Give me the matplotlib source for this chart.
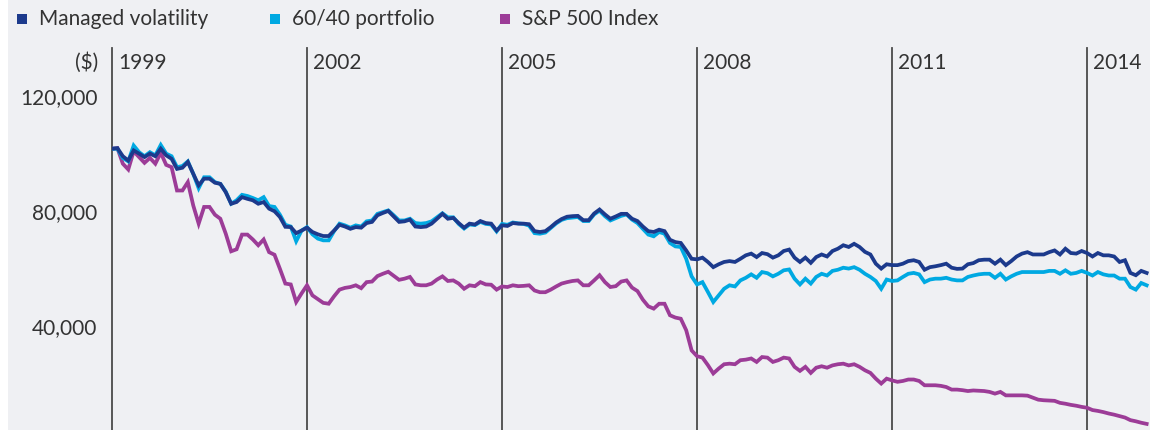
import matplotlib
matplotlib.use("Agg")
import matplotlib.pyplot as plt
from matplotlib.patches import Rectangle
import numpy as np

# ---- data (values in $ thousands, monthly from Jan 1999) ----
managed_volatility = [
    101.7, 101.9, 99.1, 97.6, 101.1, 100.0, 98.8, 100.0, 99.1, 101.7, 99.4, 98.2,
    94.7, 95.1, 97.1, 93.0, 89.0, 91.3, 91.3, 89.9, 89.5, 86.6, 82.6, 83.2,
    84.9, 84.3, 83.8, 82.6, 83.2, 80.9, 80.0, 78.0, 74.6,
    74.5, 72.4, 73.3, 74.3, 72.8, 72.0, 71.4, 71.4, 73.3, 75.3, 74.7, 73.9,
    74.5, 74.3, 75.9, 76.3, 78.6, 79.4, 80.1, 78.2, 76.3, 76.5, 77.1, 74.7,
    74.5, 74.7, 75.7, 77.4, 79.1, 77.4, 77.7,
    75.9, 74.3, 75.7, 75.4, 76.6, 75.9, 75.7, 73.3, 75.1, 74.9, 75.9, 75.7,
    75.7, 75.5, 73.1, 72.8, 73.1, 74.5, 76.1, 77.3, 78.1, 78.3, 78.4, 76.9,
    76.9, 79.2, 80.6, 78.9, 77.4, 78.2, 79.1,
    79.1, 77.4, 76.6, 74.7, 73.1, 72.8, 73.6, 73.1, 70.1, 69.3, 69.0, 66.4,
    63.5, 63.3, 63.9, 62.4, 60.6, 61.6, 62.4, 62.7, 62.4, 63.5, 64.7, 65.3,
    64.1, 65.5, 65.1, 63.9, 64.7, 66.2, 66.7, 63.9,
    62.4, 63.9, 62.1, 64.1, 65.0, 64.3, 66.2, 67.0, 68.2, 67.6, 68.7, 67.6,
    65.9, 65.0, 61.8, 60.1, 61.6, 61.3, 61.3, 61.8, 62.7, 63.0, 62.4, 59.7,
    60.6, 60.9, 61.3, 61.8, 60.4,
    60.0, 60.1, 61.6, 62.0, 63.0, 63.2, 63.2, 61.8, 63.2, 61.3, 62.7, 64.3,
    65.3, 65.8, 65.0, 65.0, 65.0, 65.8, 66.4, 65.0, 67.0, 65.5, 65.3, 66.2,
    65.5, 64.3, 65.5, 64.7, 64.7, 64.3, 62.4, 63.0, 58.6, 57.8, 59.3, 58.6,
]

portfolio_60_40 = [
    101.7, 101.7, 98.5, 97.3, 102.8, 100.5, 99.1, 100.5, 99.4, 103.0, 100.0, 99.1,
    95.3, 95.7, 97.3, 93.0, 88.0, 91.8, 91.8, 90.1, 89.5, 86.8, 82.6, 83.8,
    85.7, 85.3, 84.6, 83.8, 84.9, 81.8, 81.5, 78.8, 75.3,
    74.7, 69.6, 73.3, 74.5, 72.0, 70.5, 69.9, 69.9, 73.1, 75.7, 75.1, 74.3,
    75.1, 74.7, 76.5, 76.8, 79.1, 79.7, 80.3, 78.6, 76.8, 76.8, 77.4, 75.9,
    75.7, 75.9, 76.5, 77.9, 79.3, 77.9, 77.9,
    75.6, 74.0, 75.4, 75.2, 76.3, 75.6, 75.4, 73.0, 75.6, 75.3, 76.1, 75.8,
    75.6, 75.0, 72.4, 72.2, 72.6, 74.2, 75.8, 77.0, 77.6, 77.8, 78.0, 76.6,
    76.6, 78.9, 80.2, 78.3, 76.8, 77.6, 78.4,
    78.9, 77.1, 75.9, 73.9, 71.9, 71.3, 72.8, 72.2, 69.0, 67.8, 67.6, 63.5,
    57.4, 54.6, 55.4, 52.0, 48.5, 50.8, 53.1, 54.3, 53.9, 56.0, 56.9, 58.1,
    56.9, 58.9, 58.5, 57.4, 58.3, 59.5, 59.8, 56.6,
    54.6, 56.6, 54.9, 57.2, 58.3, 57.7, 59.3, 59.7, 60.4, 60.1, 60.6, 59.7,
    58.3, 57.2, 55.8, 53.1, 56.3, 55.8, 56.0, 57.2, 58.3, 58.6, 58.1, 55.4,
    56.3, 56.6, 56.6, 56.9, 56.3,
    56.0, 56.0, 57.2, 57.7, 58.1, 58.3, 58.3, 56.9, 58.3, 56.3, 57.4, 58.3,
    58.9, 58.9, 58.9, 58.9, 58.9, 59.3, 59.3, 58.3, 59.5, 58.3, 58.6, 59.3,
    58.6, 57.7, 58.9, 58.1, 57.7, 57.7, 56.6, 56.6, 53.7, 52.8, 55.1, 54.3,
]

sp500_index = [
    101.7, 101.9, 96.5, 94.5, 100.8, 98.8, 96.8, 98.5, 96.5, 100.3, 96.1, 95.3,
    87.2, 87.2, 90.1, 82.0, 75.7, 81.5, 81.5, 78.8, 77.4, 72.2, 66.1, 66.8,
    71.9, 71.9, 70.2, 68.2, 70.2, 65.8, 64.9, 60.0, 54.9,
    54.6, 48.5, 51.5, 54.3, 50.8, 49.5, 48.2, 47.9, 50.5, 52.8, 53.4, 53.7,
    54.3, 53.3, 55.4, 55.6, 57.5, 58.3, 59.0, 57.6, 56.2, 56.6, 57.2, 54.6,
    54.3, 54.3, 54.9, 56.3, 57.4, 55.8, 56.0,
    54.9, 53.1, 54.3, 54.0, 55.4, 54.6, 54.5, 52.8, 53.9, 53.7, 54.3, 54.0,
    54.1, 54.3, 52.5, 51.9, 51.9, 52.8, 53.9, 54.9, 55.4, 55.8, 56.0, 54.3,
    54.3, 56.0, 57.8, 55.4, 53.7, 54.0, 55.6,
    56.0, 53.5, 52.3, 49.3, 47.0, 46.2, 47.9, 47.9, 43.9, 43.1, 42.7, 38.7,
    31.7, 29.7, 29.2, 26.6, 23.7, 25.4, 26.9, 27.1, 26.9, 28.3, 28.5, 28.9,
    27.7, 29.4, 29.2, 27.7, 28.3, 29.2, 28.9, 26.0,
    24.6, 26.0, 23.9, 25.7, 26.2, 25.7, 26.5, 26.9, 27.1, 26.5, 26.9, 26.0,
    24.8, 23.9, 21.9, 20.2, 21.9, 21.3, 20.8, 21.1, 21.6, 21.6, 21.1, 19.6,
    19.6, 19.6, 19.4, 19.0, 18.1,
    18.1, 17.9, 17.6, 17.8, 17.7, 17.6, 17.3, 16.7, 17.3, 16.1, 16.1, 16.1,
    16.1, 16.0, 15.3, 14.6, 14.4, 14.3, 14.2, 13.5, 13.2, 12.8, 12.5, 12.1,
    11.8, 11.0, 10.7, 10.3, 9.8, 9.4, 8.9, 8.4, 7.5, 7.1, 6.6, 6.2,
]

series_names = ["Managed volatility", "60/40 portfolio", "S&P 500 Index"]
year_labels = [1999, 2002, 2005, 2008, 2011, 2014]
y_ticks = [40000, 80000, 120000]
start_year = 1999

# ---- style ----
FONT = ["Lato", "DejaVu Sans"]
FW = "normal"
FS = 15
TXT = "#333333"
BG = "#eff0f3"
C_MV = "#1c3a8c"
C_6040 = "#00a9e2"
C_SP = "#9c3c97"

W, H = 1150, 430
fig = plt.figure(figsize=(W / 100, H / 100), dpi=100)
fig.patch.set_facecolor("white")
fig.add_artist(Rectangle((8 / W, 0), 1 - 8 / W, 1, transform=fig.transFigure,
                         facecolor=BG, edgecolor="none", zorder=-10))

ax_top_px, ax_bot_px = 48, 430
ax = fig.add_axes([112 / W, (H - ax_bot_px) / H, 1 - 112 / W, (ax_bot_px - ax_top_px) / H])
ax.set_facecolor("none")
for s in ax.spines.values():
    s.set_visible(False)

months = np.arange(len(managed_volatility))
mv = np.array(managed_volatility) * 1000
p64 = np.array(portfolio_60_40) * 1000
sp = np.array(sp500_index) * 1000

lw = 2.7
ax.plot(months, sp, color=C_SP, lw=lw, solid_joinstyle="miter", zorder=3)
ax.plot(months, p64, color=C_6040, lw=lw, solid_joinstyle="miter", zorder=4)
ax.plot(months, mv, color=C_MV, lw=lw, solid_joinstyle="miter", zorder=5)

px_per_month = 5.417
ax.set_xlim(0, (W - 112) / px_per_month)
# y scale: 120k at y=96px, 40k at y=326.5px
ppk = (326.5 - 96) / 80.0
zero_px = 326.5 + 40 * ppk
ax.set_ylim((zero_px - ax_bot_px) / ppk * 1000, (zero_px - ax_top_px) / ppk * 1000)

for yr in year_labels:
    xm = (yr - start_year) * 12
    ax.axvline(xm, color="#4a4a4a", lw=1.3, zorder=2, clip_on=False)
    ax.annotate(str(yr), xy=(xm, 1 - (63 - ax_top_px) / (ax_bot_px - ax_top_px)),
                xycoords=("data", "axes fraction"), xytext=(6, 0),
                textcoords="offset pixels", ha="left", va="center",
                fontsize=FS, color=TXT, family=FONT, fontweight=FW)

ax.set_xticks([])
ax.set_yticks(y_ticks)
ax.set_yticklabels([f"{v:,}" for v in y_ticks], fontsize=FS, color=TXT, family=FONT,
                   fontweight=FW)
ax.tick_params(axis="y", length=0, pad=10.5)

fig.text(98 / W, 1 - 63 / H, "($)", ha="right", va="center", fontsize=FS,
         color=TXT, family=FONT, fontweight=FW)

# legend
leg_colors = [C_MV, C_6040, C_SP]
leg_sq_x = [17, 270, 500]
for name, col, sx in zip(series_names, leg_colors, leg_sq_x):
    fig.add_artist(Rectangle((sx / W, 1 - 24 / H), 10 / W, 10 / H, transform=fig.transFigure,
                             facecolor=col, edgecolor="none"))
    fig.text((sx + 22) / W, 1 - 19 / H, name, ha="left", va="center", fontsize=FS,
             color=TXT, family=FONT, fontweight=FW)

fig.savefig("out.png", dpi=100, facecolor=fig.get_facecolor())
